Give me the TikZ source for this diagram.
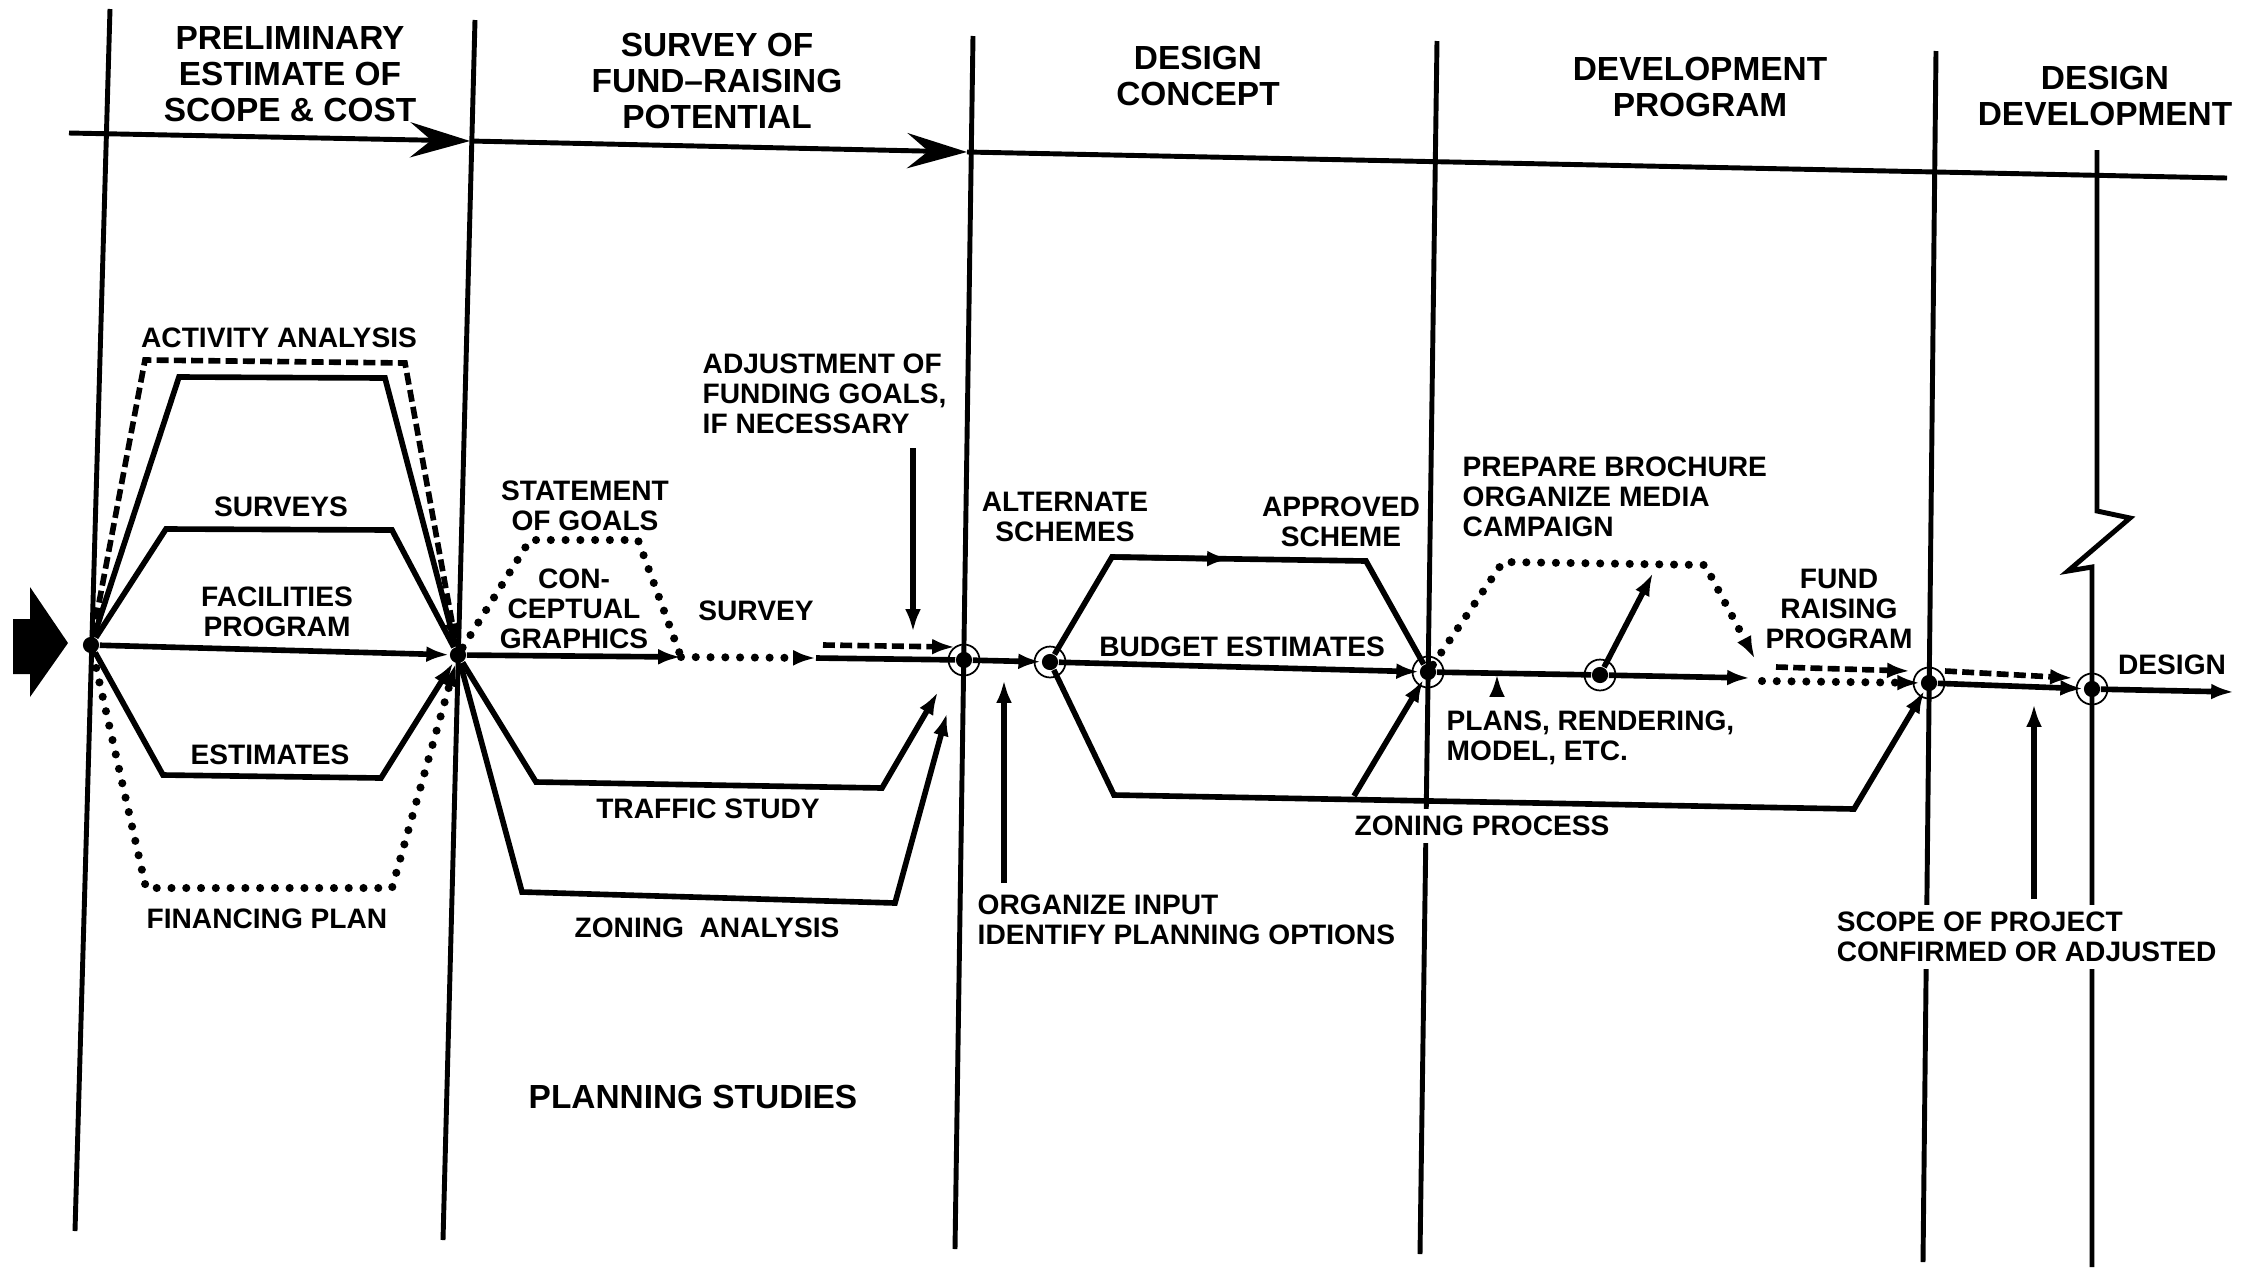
\documentclass[tikz,border=0pt]{standalone}
\usepackage{fontspec}
\setmainfont{Liberation Sans}
\usetikzlibrary{arrows.meta}
\tikzset{
  phase/.style={line width=1.4pt},
  flow/.style={line width=1.6pt},
  dotflow/.style={line width=2.3pt, line cap=round, dash pattern=on 0pt off 4.2pt},
  dashflow/.style={line width=1.6pt, dash pattern=on 3.4pt off 1.5pt},
  arr/.style={-{Latex[length=6.5pt,width=4.5pt]}},
  bigarr/.style={-{Stealth[length=17pt,width=10pt,inset=6pt]}},
  dot/.style={circle, fill=black, inner sep=0pt, minimum size=4.6pt},
  ring/.style={line width=0.5pt},
  hdr/.style={font=\fontsize{9.5}{10.3}\selectfont\bfseries, align=center, inner sep=0pt},
  lbl/.style={font=\fontsize{8}{8.6}\selectfont\bfseries, align=center, inner sep=0pt},
}
\begin{document}
\begin{tikzpicture}[x=0.01cm,y=-0.01cm]
              \useasboundingbox (0,0) rectangle (2242,1269);
              \draw[phase] (110,9) -- (75,1231);
              \draw[phase] (475,20) -- (443,1240);
              \draw[phase] (973,36) -- (955,1249);
              \draw[phase] (1437,41) -- (1420,1254);
              \draw[phase] (1936,51) -- (1923,1262);
              \draw[phase] (2097,150) -- (2097,511) -- (2130,518) -- (2068,571) -- (2092,567) -- (2092,1267);
              \draw[phase,bigarr] (69,133) -- (470,141);
              \draw[phase,bigarr] (470,141) -- (967,152);
              \draw[phase] (967,152) -- (2227,178);
              \fill (13,619) -- (30,619) -- (30,587) -- (68,643) -- (30,697) -- (30,674) -- (13,674) -- cycle;
              \node[hdr] (hprelim) at (290,74) {PRELIMINARY\\ESTIMATE OF\\SCOPE \& COST};
              \node[hdr] (hsurvey) at (717,81) {SURVEY OF\\FUND--RAISING\\POTENTIAL};
              \node[hdr] (hconcept) at (1198,76) {DESIGN\\CONCEPT};
              \node[hdr] (hdevprog) at (1700,87) {DEVELOPMENT\\PROGRAM};
              \node[hdr] (hdesdev) at (2105,96) {DESIGN\\DEVELOPMENT};
              \node[dot] (n1) at (91,645) {};
              \node[dot] (n2) at (458,655) {};
              \node[dot] (n3) at (964,660) {};
              \node[dot] (na) at (1050,662) {};
              \node[dot] (n4) at (1428,672) {};
              \node[dot] (nb) at (1600,675) {};
              \node[dot] (n5) at (1929,683) {};
              \node[dot] (n6) at (2092,689) {};
              \foreach \n in {n3,na,n4,nb,n5,n6}
                \draw[ring] (\n) circle (4.4pt);
              \draw[flow,arr] (n1) -- (n2);
              \draw[flow] (n1) -- (166,529) -- (392,530) -- (n2);
              \draw[flow] (n1) -- (179,377) -- (385,378) -- (n2);
              \draw[dashflow,arr] (n1) -- (145,360) -- (405,363) -- (n2);
              \draw[flow,arr] (n1) -- (163,775) -- (381,778) -- (n2);
              \draw[dotflow,arr] (n1) -- (146,888) -- (392,888) -- (n2);
              \coordinate (sv) at (681,657);
              \coordinate (sa) at (816,658);
              \draw[flow,arr] (n2) -- (sv);
              \draw[dotflow,arr] (sv) -- (sa);
              \draw[flow] (sa) -- (n3);
              \draw[dotflow] (n2) -- (530,540) -- (638,540) -- (sv);
              \coordinate (adj) at (823,645);
              \draw[dashflow,arr] (adj) -- (955,647);
              \draw[flow,arr] (913,448) -- (913,632);
              \draw[flow,arr] (n2) -- (536,782) -- (882,788) -- (938,692);
              \draw[flow,arr] (n2) -- (522,892) -- (895,903) -- (947,713);
              \draw[flow,arr] (n3) -- (na);
              \draw[flow,arr] (1004,883) -- (1004,680);
              \draw[flow] (na) -- (1112,557) -- (1366,561) -- (n4);
              \draw[flow,arr] (1112,557) -- (1230,559);
              \draw[flow,arr] (na) -- (n4);
              \draw[flow,arr] (na) -- (1114,795) -- (1854,809) -- (n5);
              \draw[flow,arr] (1354,796) -- (n4);
              \draw[flow,arr] (n4) -- (nb) -- (1750,678);
              \draw[dotflow,arr] (n4) -- (1503,562) -- (1705,565) -- (1755,659);
              \draw[flow,arr] (nb) -- (1653,573);
              \draw[flow,arr] (1497,697) -- (1497,674);
              \draw[dotflow,arr] (1762,681) -- (n5);
              \draw[dashflow,arr] (1776,667) -- (1910,671);
              \draw[dashflow,arr] (1945,671) -- (2073,678);
              \draw[flow,arr] (n5) -- (n6);
              \draw[flow,arr] (2034,899) -- (2034,704);
              \draw[flow,arr] (n6) -- (2234,692);
              \node[lbl] (lactivity) at (279,338) {ACTIVITY ANALYSIS};
              \node[lbl] (lsurveys) at (281,507) {SURVEYS};
              \node[lbl] (lfacil) at (277,612) {FACILITIES\\PROGRAM};
              \node[lbl] (lestim) at (270,755) {ESTIMATES};
              \node[lbl] (lfinance) at (267,919) {FINANCING PLAN};
              \node[lbl] (lgoals) at (585,506) {STATEMENT\\OF GOALS};
              \node[lbl] (lgraphics) at (574,609) {CON-\\CEPTUAL\\GRAPHICS};
              \node[lbl] (lsurvey) at (756,611) {SURVEY};
              \node[lbl, anchor=west, align=left] (ladjust) at (702,394) {ADJUSTMENT OF\\FUNDING GOALS,\\IF NECESSARY};
              \node[lbl] (ltraffic) at (708,809) {TRAFFIC STUDY};
              \node[lbl] (lzoning) at (707,928) {ZONING \ ANALYSIS};
              \node[hdr] (lplanning) at (693,1097) {PLANNING STUDIES};
              \node[lbl] (lalt) at (1065,517) {ALTERNATE\\SCHEMES};
              \node[lbl] (lapproved) at (1341,522) {APPROVED\\SCHEME};
              \node[lbl] (lbudget) at (1242,647) {BUDGET ESTIMATES};
              \node[lbl, anchor=west, align=left] (linput) at (977,920) {ORGANIZE INPUT\\IDENTIFY PLANNING OPTIONS};
              \node[lbl, fill=white, inner sep=2pt] (lprocess) at (1482,826) {ZONING PROCESS};
              \node[lbl, anchor=west, align=left] (lbrochure) at (1462,497) {PREPARE BROCHURE\\ORGANIZE MEDIA\\CAMPAIGN};
              \node[lbl] (lfund) at (1839,609) {FUND\\RAISING\\PROGRAM};
              \node[lbl, anchor=west, align=left] (lplans) at (1446,738) {PLANS, RENDERING,\\MODEL, ETC.};
              \node[lbl, anchor=west, align=left, fill=white, inner sep=2pt] (lscope) at (1829,937) {SCOPE OF PROJECT\\CONFIRMED OR ADJUSTED};
              \node[lbl] (ldesign) at (2172,665) {DESIGN};
            \end{tikzpicture}
\end{document}
